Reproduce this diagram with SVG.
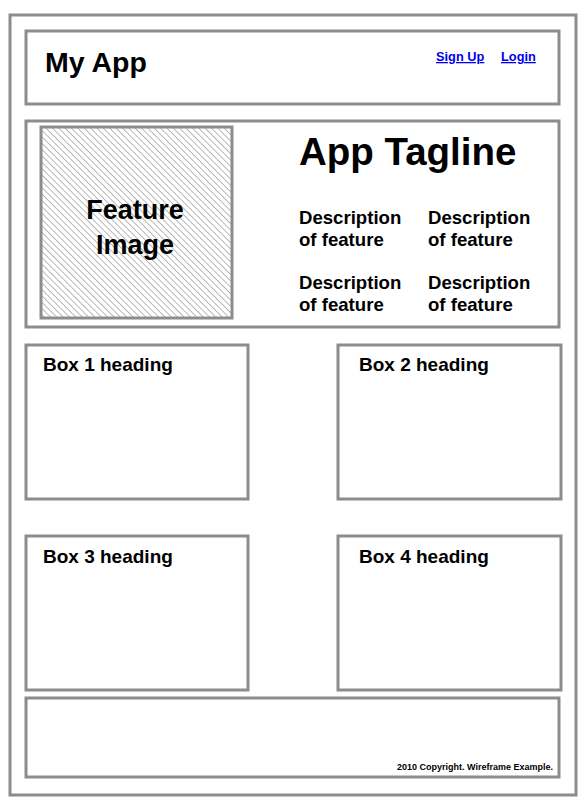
<svg xmlns="http://www.w3.org/2000/svg" width="586" height="803" viewBox="0 0 586 803">
<style>
.box{fill:#fff;stroke:#8c8c8c;stroke-width:3}
.t{font-family:"Liberation Sans",Arial,sans-serif;font-weight:bold;fill:#000}
.link{font-family:"Liberation Sans",Arial,sans-serif;font-weight:bold;fill:#0000ee;font-size:12.8px;text-decoration:underline}
</style>
<defs>
<pattern id="hatch" patternUnits="userSpaceOnUse" width="4.5" height="4.5" patternTransform="rotate(-45)">
<rect width="4.5" height="4.5" fill="#fff"/>
<line x1="0" y1="0" x2="0" y2="4.5" stroke="#8a8a8a" stroke-width="1.2"/>
</pattern>
</defs>
<rect width="586" height="803" fill="#fff"/>
<g id="page"><rect class="box" x="10" y="15" width="566" height="780"/></g>
<g id="header">
<rect class="box" x="26" y="31" width="533" height="73"/>
<text class="t" x="45" y="72" font-size="28.5">My App</text>
<text class="link" x="436" y="61">Sign Up</text>
<text class="link" x="501" y="61">Login</text>
</g>
<g id="hero">
<rect class="box" x="26" y="121" width="533" height="206"/>
<rect x="41" y="127" width="191" height="191" fill="url(#hatch)" stroke="#8c8c8c" stroke-width="3"/>
<text class="t" x="135" y="219" font-size="27" text-anchor="middle">Feature</text>
<text class="t" x="135" y="254" font-size="27" text-anchor="middle">Image</text>
<text class="t" x="299" y="165" font-size="38.5">App Tagline</text>
<g class="t" font-size="18.6">
<text x="299" y="224">Description</text><text x="299" y="246">of feature</text>
<text x="428" y="224">Description</text><text x="428" y="246">of feature</text>
<text x="299" y="289">Description</text><text x="299" y="311">of feature</text>
<text x="428" y="289">Description</text><text x="428" y="311">of feature</text>
</g>
</g>
<g id="box1"><rect class="box" x="26" y="345" width="222" height="154"/><text class="t" x="43" y="371" font-size="19">Box 1 heading</text></g>
<g id="box2"><rect class="box" x="338" y="345" width="223" height="154"/><text class="t" x="359" y="371" font-size="19">Box 2 heading</text></g>
<g id="box3"><rect class="box" x="26" y="536" width="222" height="154"/><text class="t" x="43" y="563" font-size="19">Box 3 heading</text></g>
<g id="box4"><rect class="box" x="338" y="536" width="223" height="154"/><text class="t" x="359" y="563" font-size="19">Box 4 heading</text></g>
<g id="footer">
<rect class="box" x="26" y="698" width="533" height="79"/>
<text class="t" x="553" y="770" font-size="9" text-anchor="end">2010 Copyright. Wireframe Example.</text>
</g>
<g id="connectors"/>
</svg>
